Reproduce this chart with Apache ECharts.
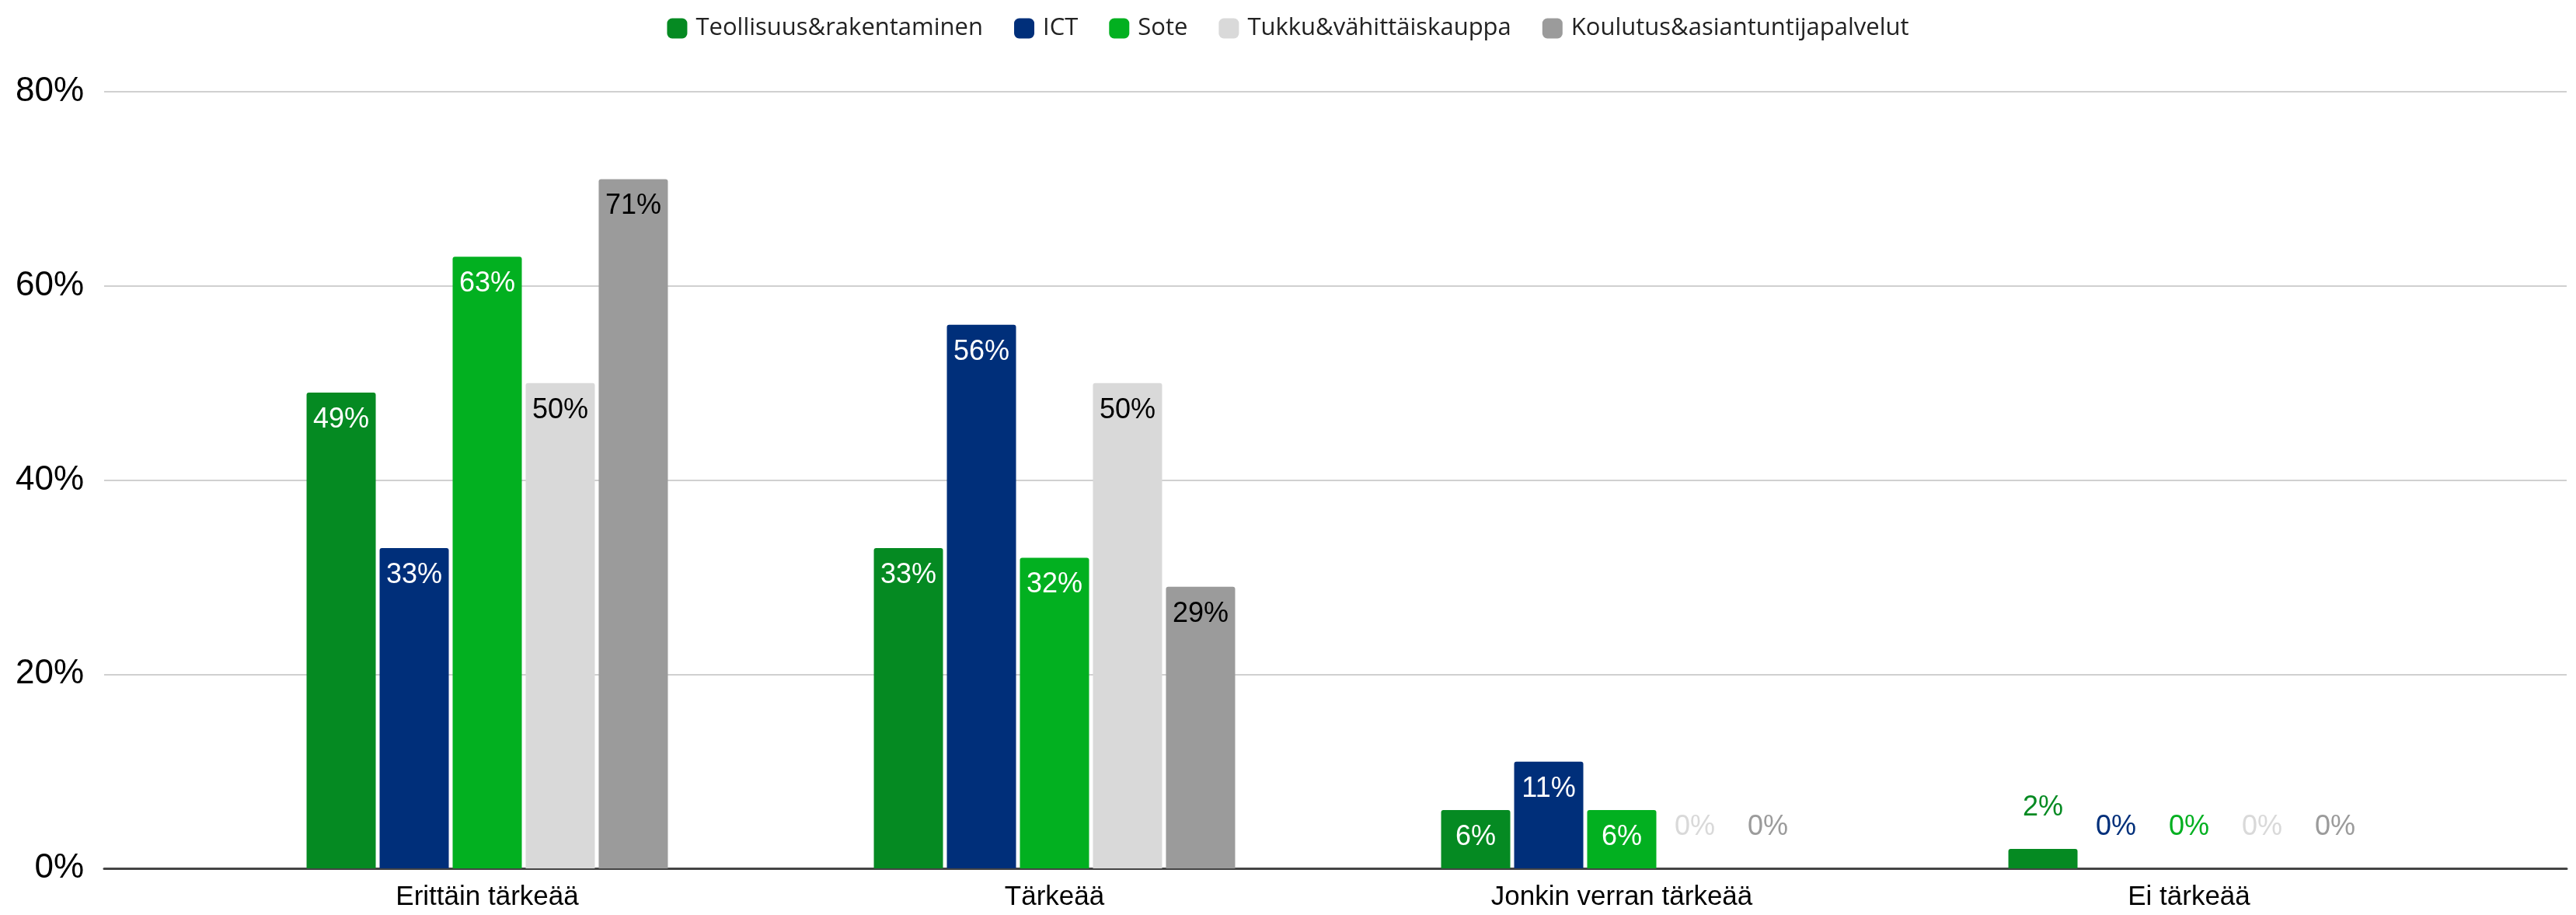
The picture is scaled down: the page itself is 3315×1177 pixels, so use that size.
<!DOCTYPE html>
<html>
<head>
<meta charset="utf-8">
<script src="https://cdn.jsdelivr.net/npm/echarts@6/dist/echarts.min.js"></script>
<style>html,body{margin:0;padding:0;background:#fff;}#c{width:3315px;height:1177px;}</style>
</head>
<body>
<div id="c"></div>
<script>
const categories = ['Erittäin tärkeää', 'Tärkeää', 'Jonkin verran tärkeää', 'Ei tärkeää'];
const seriesNames = ['Teollisuus&rakentaminen', 'ICT', 'Sote', 'Tukku&vähittäiskauppa', 'Koulutus&asiantuntijapalvelut'];
const teollisuus = [49, 33, 6, 2];
const ict = [33, 56, 11, 0];
const sote = [63, 32, 6, 0];
const tukku = [50, 50, 0, 0];
const koulutus = [71, 29, 0, 0];
const yTicks = [0, 20, 40, 60, 80];

const colors = ['#058a22', '#002f7a', '#02b020', '#d9d9d9', '#9b9b9b'];
const insideText = ['#ffffff', '#ffffff', '#ffffff', '#000000', '#000000'];
const allValues = [teollisuus, ict, sote, tukku, koulutus];
const labelFont = 'Liberation Sans, Arial, sans-serif';

const series = allValues.map((vals, si) => ({
  name: seriesNames[si],
  type: 'bar',
  xAxisIndex: 1,
  yAxisIndex: 1,
  barWidth: 89,
  barGap: '5.6%',
  itemStyle: { color: colors[si], borderRadius: [3, 3, 0, 0] },
  data: vals.map(v => ({
    value: v,
    label: v >= 5
      ? { show: true, position: 'insideTop', distance: 17, color: insideText[si], fontSize: 36, fontFamily: labelFont, formatter: '{c}%' }
      : { show: true, position: 'top', distance: 35, color: colors[si], fontSize: 36, fontFamily: labelFont, formatter: '{c}%' }
  }))
}));

const chart = echarts.init(document.getElementById('c'), null, { renderer: 'canvas' });
chart.setOption({
  animation: false,
  backgroundColor: '#ffffff',
  legend: {
    top: 16,
    left: 'center',
    itemWidth: 26,
    itemHeight: 26,
    itemGap: 40,
    icon: 'roundRect',
    textStyle: { fontSize: 31, color: '#222222', fontFamily: 'Open Sans, sans-serif', padding: [0, 0, 0, 6] },
    data: seriesNames
  },
  grid: [
    { left: 134, right: 12, top: 118, bottom: 60 },
    { left: 262, right: 133, top: 118, bottom: 60 }
  ],
  xAxis: [
    { type: 'category', gridIndex: 0, data: [''], axisLabel: { show: false }, axisTick: { show: false },
      axisLine: { show: true, lineStyle: { color: '#444444', width: 3 } } },
    { type: 'category', gridIndex: 1, data: categories, axisTick: { show: false }, axisLine: { show: false },
      axisLabel: { fontSize: 35, color: '#000000', fontFamily: labelFont, margin: 20 } }
  ],
  yAxis: [
    { type: 'value', gridIndex: 0, min: yTicks[0], max: yTicks[yTicks.length - 1], interval: 20,
      axisLine: { show: false }, axisTick: { show: false },
      axisLabel: { fontSize: 44, color: '#000000', fontFamily: labelFont, margin: 26, formatter: '{value}%' },
      splitLine: { lineStyle: { color: '#d0d0d0', width: 2 } } },
    { type: 'value', gridIndex: 1, min: yTicks[0], max: yTicks[yTicks.length - 1], interval: 20,
      axisLine: { show: false }, axisTick: { show: false }, axisLabel: { show: false }, splitLine: { show: false } }
  ],
  series: series
});
</script>
</body>
</html>
